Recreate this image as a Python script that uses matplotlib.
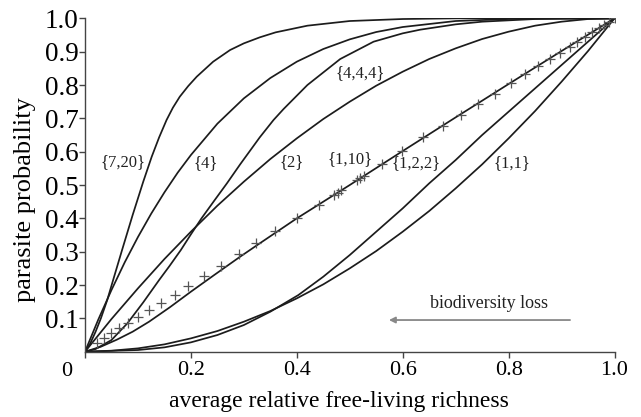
import matplotlib
matplotlib.use("Agg")
import matplotlib.pyplot as plt

plt.rcParams['font.family'] = ['Liberation Serif', 'DejaVu Serif']

# ---- data ----
x_7_20 = [0, 0.01, 0.02, 0.03, 0.042, 0.055, 0.07, 0.09, 0.11, 0.126, 0.14, 0.154, 0.166,
          0.179, 0.195, 0.211, 0.242, 0.274, 0.30, 0.33, 0.36, 0.42, 0.5, 0.6, 0.7, 1.0]
y_7_20 = [0, 0.025, 0.06, 0.10, 0.155, 0.225, 0.305, 0.41, 0.51, 0.585, 0.643, 0.695, 0.732,
          0.765, 0.797, 0.825, 0.87, 0.905, 0.925, 0.943, 0.958, 0.978, 0.992, 0.998, 1.0, 1.0]

x_4 = [0, 0.025, 0.05, 0.075, 0.1, 0.125, 0.15, 0.175, 0.2, 0.25, 0.3, 0.35, 0.4, 0.45,
       0.5, 0.55, 0.6, 0.7, 0.8, 0.9, 1.0]
y_4 = [0, 0.096, 0.185, 0.268, 0.344, 0.414, 0.478, 0.537, 0.59, 0.684, 0.76, 0.821, 0.87,
       0.908, 0.937, 0.959, 0.974, 0.992, 0.998, 1.0, 1.0]

x_444 = [0, 0.02, 0.05, 0.08, 0.11, 0.14, 0.16, 0.181, 0.2, 0.22, 0.245, 0.268, 0.293, 0.33,
         0.356, 0.375, 0.42, 0.482, 0.545, 0.6, 0.633, 0.7, 0.75, 0.85, 1.0]
y_444 = [0, 0.008, 0.035, 0.085, 0.148, 0.215, 0.258, 0.305, 0.352, 0.40, 0.455, 0.505, 0.562,
         0.643, 0.695, 0.728, 0.80, 0.878, 0.93, 0.955, 0.966, 0.982, 0.99, 0.998, 1.0]

x_2 = [0, 0.05, 0.1, 0.15, 0.2, 0.25, 0.3, 0.35, 0.4, 0.45, 0.5, 0.55, 0.6, 0.65, 0.7,
       0.75, 0.8, 0.85, 0.9, 0.95, 1.0]
y_2 = [0, 0.098, 0.19, 0.278, 0.36, 0.438, 0.51, 0.578, 0.64, 0.698, 0.75, 0.798, 0.84,
       0.878, 0.91, 0.938, 0.96, 0.978, 0.99, 0.998, 1.0]

x_1_10 = [0, 0.03, 0.06, 0.09, 0.121, 0.16, 0.2, 0.244, 0.293, 0.33, 0.4, 0.5, 0.6, 0.7,
          0.8, 0.9, 1.0]
y_1_10 = [0, 0.015, 0.036, 0.06, 0.09, 0.133, 0.18, 0.23, 0.285, 0.325, 0.40, 0.50, 0.602,
          0.703, 0.803, 0.902, 1.0]

x_1_2_2 = [0, 0.1, 0.15, 0.2, 0.25, 0.3, 0.35, 0.403, 0.45, 0.5, 0.55, 0.6, 0.65, 0.7,
           0.75, 0.8, 0.85, 0.9, 0.95, 1.0]
y_1_2_2 = [0, 0.005, 0.013, 0.028, 0.05, 0.08, 0.12, 0.17, 0.225, 0.29, 0.36, 0.43, 0.505,
           0.575, 0.65, 0.72, 0.79, 0.86, 0.93, 1.0]

x_1_1 = [0, 0.05, 0.1, 0.15, 0.2, 0.25, 0.3, 0.35, 0.4, 0.45, 0.5, 0.55, 0.6, 0.65, 0.7,
         0.75, 0.8, 0.85, 0.9, 0.95, 1.0]
y_1_1 = [0, 0.003, 0.01, 0.022, 0.04, 0.062, 0.09, 0.122, 0.16, 0.202, 0.25, 0.302, 0.36,
         0.422, 0.49, 0.562, 0.64, 0.722, 0.81, 0.902, 1.0]

marker_x = [0.022, 0.036, 0.050, 0.065, 0.082, 0.101, 0.121, 0.144, 0.170, 0.195, 0.225,
            0.256, 0.290, 0.323, 0.359, 0.400, 0.441, 0.471, 0.477, 0.484, 0.513, 0.519,
            0.527, 0.560, 0.598, 0.639, 0.677, 0.711, 0.743, 0.774, 0.804, 0.831, 0.856,
            0.878, 0.897, 0.915, 0.930, 0.945, 0.958, 0.970, 0.981, 0.990, 1.0]
marker_y = [0.025, 0.040, 0.055, 0.070, 0.085, 0.105, 0.125, 0.147, 0.170, 0.197, 0.228,
            0.257, 0.293, 0.327, 0.363, 0.400, 0.440, 0.471, 0.477, 0.484, 0.515, 0.521,
            0.528, 0.563, 0.603, 0.643, 0.678, 0.711, 0.744, 0.774, 0.806, 0.832, 0.857,
            0.878, 0.897, 0.915, 0.930, 0.945, 0.958, 0.970, 0.981, 0.990, 1.0]

curve_labels = ['{7,20}', '{4}', '{2}', '{4,4,4}', '{1,10}', '{1,2,2}', '{1,1}']
label_x = [0.072, 0.227, 0.390, 0.519, 0.500, 0.626, 0.806]
label_y = [0.570, 0.565, 0.570, 0.835, 0.577, 0.565, 0.565]

x_ticks = [0.2, 0.4, 0.6, 0.8, 1.0]
x_ticklabels = ['0.2', '0.4', '0.6', '0.8', '1.0']
y_ticks = [0.1, 0.2, 0.3, 0.4, 0.5, 0.6, 0.7, 0.8, 0.9, 1.0]
y_ticklabels = ['0.1', '0.2', '0.3', '0.4', '0.5', '0.6', '0.7', '0.8', '0.9', '1.0']

# ---- figure ----
fig = plt.figure(figsize=(6.41, 4.17), dpi=100)
ax = fig.add_axes([0.1326, 0.1566, 0.8261, 0.7994])

lc = '#1c1c1c'
lw = 1.25
for xs, ys in [(x_7_20, y_7_20), (x_4, y_4), (x_444, y_444), (x_2, y_2),
               (x_1_10, y_1_10), (x_1_2_2, y_1_2_2), (x_1_1, y_1_1)]:
    ax.plot(xs, ys, color=lc, lw=lw, solid_capstyle='round', solid_joinstyle='round')

ax.plot(marker_x, marker_y, linestyle='none', marker='+', color='#555555',
        markersize=7, markeredgewidth=0.9)

for t, lx, ly in zip(curve_labels, label_x, label_y):
    ax.text(lx, ly, t, fontsize=12, ha='center', va='center', color='#222222')

ax.set_xlim(0, 1.0)
ax.set_ylim(0, 1.0)
for s in ['top', 'right']:
    ax.spines[s].set_visible(False)
for s in ['left', 'bottom']:
    ax.spines[s].set_color('#444444')
    ax.spines[s].set_linewidth(1.0)

ax.set_xticks([0] + x_ticks)
ax.set_xticklabels([''] + x_ticklabels, fontsize=16)
ax.set_yticks(y_ticks)
ax.set_yticklabels(y_ticklabels, fontsize=19.5)
ax.tick_params(axis='y', direction='out', length=4, width=1.0, color='#444444', pad=0.5)
ax.tick_params(axis='x', direction='out', length=4, width=1.0, color='#444444', pad=3)
ax.annotate('0', xy=(0, 0), xycoords='data', xytext=(-13, -14), textcoords='offset points',
            ha='center', va='center', fontsize=16, annotation_clip=False)

ax.set_xlabel('average relative free-living richness', fontsize=17)
ax.set_ylabel('parasite probability', fontsize=19)
ax.xaxis.set_label_coords(0.48, -0.118)
ax.yaxis.set_label_coords(-0.093, 0.455)

ax.text(0.763, 0.146, 'biodiversity loss', fontsize=13, ha='center', va='center', color='#222222')
ax.annotate('', xy=(0.574, 0.095), xytext=(0.916, 0.095),
            arrowprops=dict(arrowstyle='-|>', color='#888888', lw=1.3,
                            mutation_scale=9, shrinkA=0, shrinkB=0))

fig.savefig('out.png', dpi=100)
